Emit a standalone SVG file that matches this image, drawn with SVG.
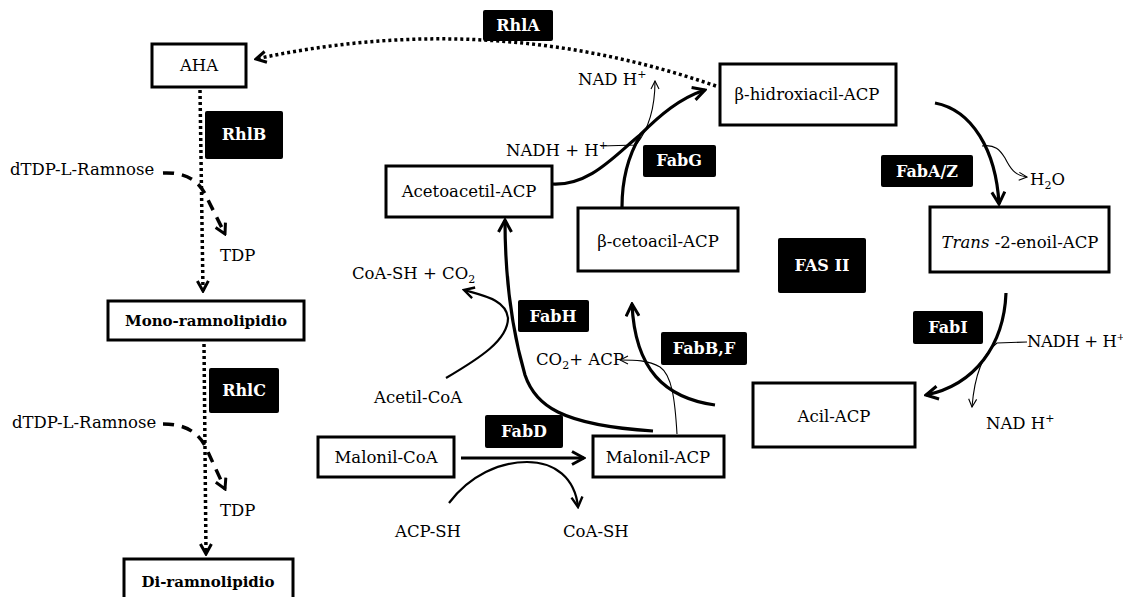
<svg xmlns="http://www.w3.org/2000/svg" width="1123" height="597" viewBox="0 0 1123 597">
<style>
.t{font-family:"DejaVu Serif","Liberation Serif",serif;font-size:16.5px;fill:#000}
.b{font-family:"DejaVu Serif","Liberation Serif",serif;font-size:15px;font-weight:bold;fill:#000}
.e{font-family:"DejaVu Serif","Liberation Serif",serif;font-size:16px;font-weight:bold;fill:#fff;text-anchor:middle}
.m{text-anchor:middle}
.box{fill:#fff;stroke:#000;stroke-width:3}
.enz{fill:#000;stroke:none}
.thick{fill:none;stroke:#000;stroke-width:3.2}
.med{fill:none;stroke:#000;stroke-width:2.2}
.thin{fill:none;stroke:#000;stroke-width:1.1}
.dot{fill:none;stroke:#000;stroke-width:3.5;stroke-dasharray:3 3}
.dash{fill:none;stroke:#000;stroke-width:3.5;stroke-dasharray:11 8}
</style>
<defs>
<marker id="aT" viewBox="0 0 16 16" refX="14" refY="8" markerWidth="16" markerHeight="16" markerUnits="userSpaceOnUse" orient="auto"><path d="M2,1.5 L14,8 L2,14.5" fill="none" stroke="#000" stroke-width="3"/></marker>
<marker id="aM" viewBox="0 0 14 14" refX="12" refY="7" markerWidth="14" markerHeight="14" markerUnits="userSpaceOnUse" orient="auto"><path d="M2,1.5 L12,7 L2,12.5" fill="none" stroke="#000" stroke-width="2.4"/></marker>
<marker id="aD" viewBox="0 0 14 14" refX="12" refY="7" markerWidth="14" markerHeight="14" markerUnits="userSpaceOnUse" orient="auto"><path d="M2,1.5 L12,7 L2,12.5" fill="none" stroke="#000" stroke-width="3"/></marker>
<marker id="aS" viewBox="0 0 10 10" refX="9" refY="5" markerWidth="10" markerHeight="10" markerUnits="userSpaceOnUse" orient="auto"><path d="M1,1 L9,5 L1,9" fill="none" stroke="#000" stroke-width="1.1"/></marker>
</defs>
<rect width="1123" height="597" fill="#fff"/>

<g id="connectors">
<path class="dot" d="M716,86 Q490,8 256,59" marker-end="url(#aD)"/>
<path class="dot" d="M200,90 L203,291" marker-end="url(#aD)"/>
<path class="dash" d="M163,173 C185,172 200,180 208,200 L225,234" marker-end="url(#aD)"/>
<path class="dot" d="M204,344 L206,554" marker-end="url(#aD)"/>
<path class="dash" d="M163,424 C185,424 200,432 208,452 L225,489" marker-end="url(#aD)"/>
<path class="thick" d="M552,184 C590,186 615,155 640,135 C660,115 680,98 705,90" marker-end="url(#aT)"/>
<path class="thick" d="M622,207 C622,180 627,158 640,136"/>
<path class="thin" d="M601,146 L636,145 C648,130 655,110 655,81" marker-end="url(#aS)"/>
<path class="thick" d="M935,103 C972,110 996,150 999,204" marker-end="url(#aT)"/>
<path class="thin" d="M982,146 C995,144 1000,150 1005,158 C1010,168 1015,176 1027,177" marker-end="url(#aS)"/>
<path class="thick" d="M1006,293 C1004,345 975,385 926,395" marker-end="url(#aT)"/>
<path class="thin" d="M1027,342 L997,343 C985,352 975,370 972,407" marker-end="url(#aS)"/>
<path class="thick" d="M715,405 C665,398 635,370 632,304" marker-end="url(#aT)"/>
<path class="thin" d="M677,434 C675,400 672,375 660,367 C648,360 635,360 620,360" marker-end="url(#aS)"/>
<path class="thick" d="M653,431 C560,425 535,405 525,375 C512,330 505,280 505,220" marker-end="url(#aT)"/>
<path class="med" d="M446,378 C480,358 508,340 508,318 C506,300 485,296 464,290" marker-end="url(#aM)"/>
<path class="thick" d="M461,458 L584,458" marker-end="url(#aT)"/>
<path class="med" d="M449,503 C470,475 500,462 527,462 C555,462 575,478 578,507" marker-end="url(#aM)"/>
</g>

<g id="AHA"><rect class="box" x="152" y="44" width="94" height="43"/><text class="t m" x="199" y="71">AHA</text></g>
<g id="RhlB"><rect class="enz" x="205" y="111" width="78" height="48" rx="2"/><text class="e" x="244" y="140">RhlB</text></g>
<g id="dTDP1"><text class="t" x="10" y="175">dTDP-L-Ramnose</text></g>
<g id="TDP1"><text class="t" x="220" y="261">TDP</text></g>
<g id="Mono"><rect class="box" x="108" y="301" width="196" height="39"/><text class="b m" x="206" y="326">Mono-ramnolipidio</text></g>
<g id="RhlC"><rect class="enz" x="209" y="368" width="70" height="45" rx="2"/><text class="e" x="244" y="396">RhlC</text></g>
<g id="dTDP2"><text class="t" x="12" y="428">dTDP-L-Ramnose</text></g>
<g id="TDP2"><text class="t" x="220" y="516">TDP</text></g>
<g id="Di"><rect class="box" x="124" y="559" width="169" height="46"/><text class="b m" x="208" y="587">Di-ramnolipidio</text></g>

<g id="RhlA"><rect class="enz" x="483" y="10" width="70" height="31" rx="2"/><text class="e" x="518" y="31">RhlA</text></g>
<g id="NADH_top"><text class="t" x="578" y="85">NAD H<tspan dy="-7" font-size="11">+</tspan></text></g>
<g id="NADH_left"><text class="t" x="506" y="156">NADH + H<tspan dy="-7" font-size="11">+</tspan></text></g>
<g id="FabG"><rect class="enz" x="643" y="145" width="73" height="32" rx="2"/><text class="e" x="679" y="166">FabG</text></g>
<g id="Acetoacetil"><rect class="box" x="386" y="166" width="166" height="51"/><text class="t m" x="469" y="197">Acetoacetil-ACP</text></g>
<g id="Bhidroxi"><rect class="box" x="720" y="64" width="176" height="61"/><text class="t m" x="807" y="100">β-hidroxiacil-ACP</text></g>
<g id="Bceto"><rect class="box" x="578" y="208" width="160" height="63"/><text class="t m" x="658" y="247">β-cetoacil-ACP</text></g>
<g id="FabAZ"><rect class="enz" x="881" y="155" width="92" height="32" rx="2"/><text class="e" x="927" y="177">FabA/Z</text></g>
<g id="H2O"><text class="t" x="1030" y="185">H<tspan dy="4" font-size="11">2</tspan><tspan dy="-4">O</tspan></text></g>
<g id="Trans"><rect class="box" x="930" y="207" width="179" height="65"/><text class="t m" x="1020" y="248"><tspan font-style="italic">Trans</tspan> -2-enoil-ACP</text></g>
<g id="FASII"><rect class="enz" x="778" y="238" width="88" height="55" rx="2"/><text class="e" x="822" y="271" font-size="17">FAS II</text></g>
<g id="FabI"><rect class="enz" x="913" y="311" width="70" height="33" rx="2"/><text class="e" x="948" y="333">FabI</text></g>
<g id="NADH_right"><text class="t" x="1027" y="347" font-size="15" letter-spacing="-0.4">NADH + H<tspan dy="-7" font-size="10">+</tspan></text></g>
<g id="NAD_right"><text class="t" x="986" y="429">NAD H<tspan dy="-7" font-size="11">+</tspan></text></g>
<g id="Acil"><rect class="box" x="753" y="383" width="162" height="64"/><text class="t m" x="834" y="422">Acil-ACP</text></g>
<g id="FabBF"><rect class="enz" x="661" y="332" width="86" height="33" rx="2"/><text class="e" x="704" y="354">FabB,F</text></g>
<g id="CO2ACP"><text class="t" x="536" y="365">CO<tspan dy="4" font-size="11">2</tspan><tspan dy="-4">+ ACP</tspan></text></g>
<g id="FabH"><rect class="enz" x="518" y="300" width="71" height="32" rx="2"/><text class="e" x="553" y="322">FabH</text></g>
<g id="CoASHCO2"><text class="t" x="352" y="279">CoA-SH + CO<tspan dy="4" font-size="11">2</tspan></text></g>
<g id="AcetilCoA"><text class="t" x="374" y="403">Acetil-CoA</text></g>
<g id="FabD"><rect class="enz" x="485" y="415" width="78" height="33" rx="2"/><text class="e" x="524" y="437">FabD</text></g>
<g id="MalonilCoA"><rect class="box" x="318" y="437" width="136" height="40"/><text class="t m" x="386" y="463">Malonil-CoA</text></g>
<g id="MalonilACP"><rect class="box" x="593" y="436" width="131" height="41"/><text class="t m" x="658" y="463">Malonil-ACP</text></g>
<g id="ACPSH"><text class="t" x="395" y="537">ACP-SH</text></g>
<g id="CoASH"><text class="t" x="563" y="537">CoA-SH</text></g>
</svg>
